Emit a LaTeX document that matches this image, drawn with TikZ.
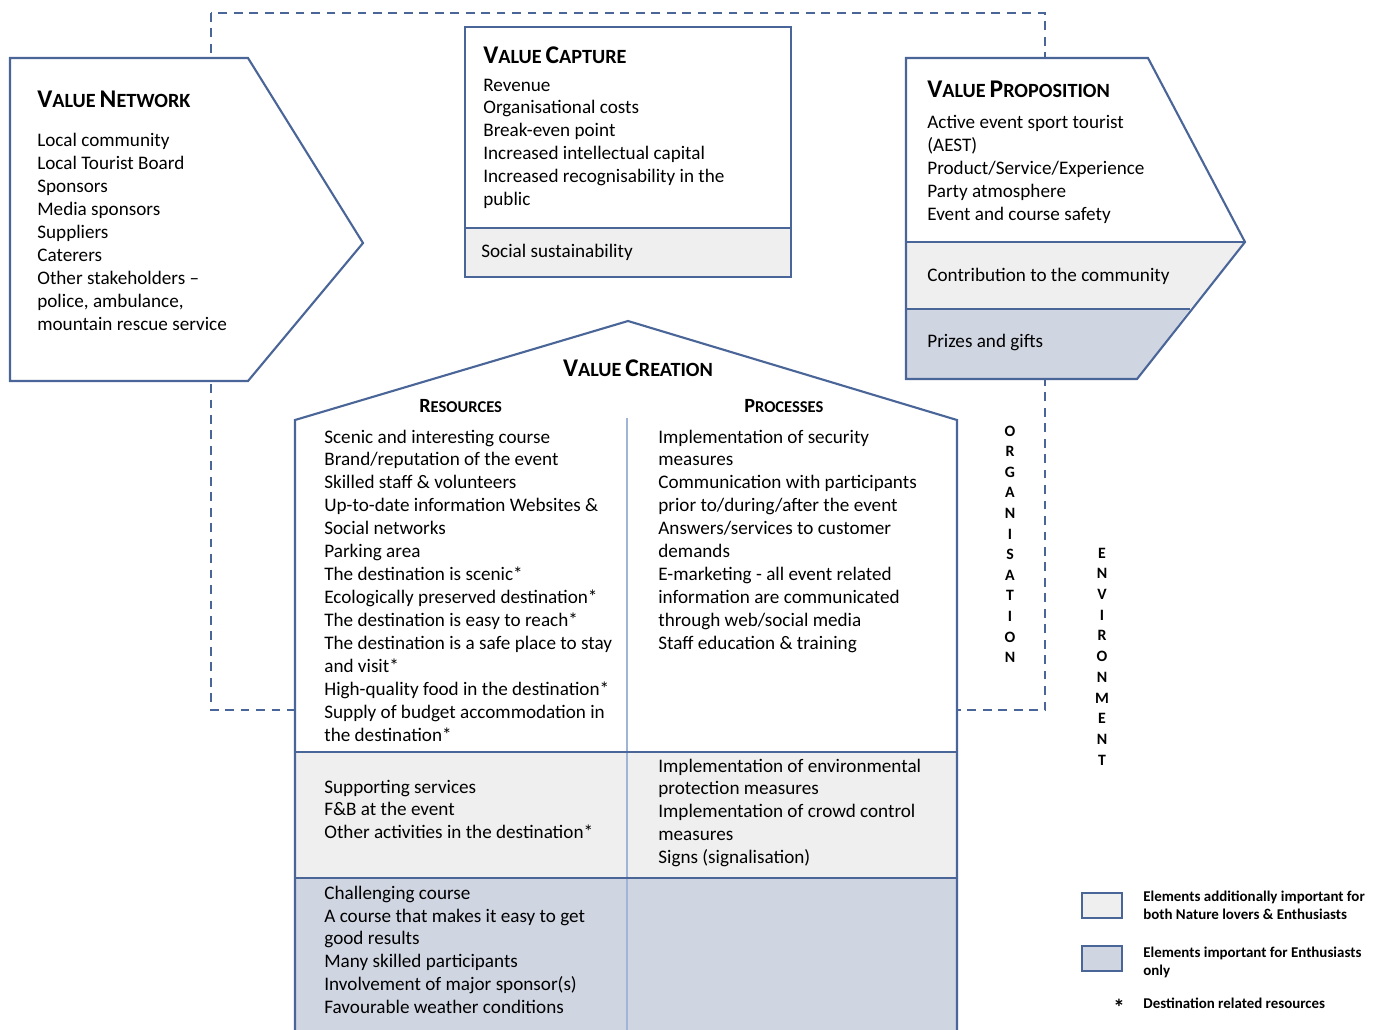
\documentclass[tikz,border=0pt]{standalone}
\usepackage{fontspec}
\setmainfont{Carlito}
\usepackage{xcolor}
\usepackage{tikz}

\definecolor{bordo}{RGB}{74,101,151}
\definecolor{divisore}{RGB}{160,180,214}
\definecolor{grigiochiaro}{RGB}{239,239,239}
\definecolor{grigioblu}{RGB}{208,213,226}

\newcommand{\scgrande}[2]{{\fontsize{14.5}{16}\selectfont #1}{\fontsize{11.5}{13}\selectfont #2}}
\newcommand{\scpiccolo}[2]{{\fontsize{11.5}{13}\selectfont #1}{\fontsize{9.4}{11}\selectfont #2}}

% i nodi su piu righe sono posti sulla linea di base dell'ultima riga
\tikzset{
  testo/.style={anchor=base west, align=left, inner sep=0pt, font=\fontsize{10.9}{13.05}\selectfont},
  titolo/.style={anchor=base west, inner sep=0pt, font=\bfseries},
  lettera/.style={inner sep=0pt, font=\fontsize{9}{9}\selectfont\bfseries},
  legenda/.style={anchor=base west, align=left, inner sep=0pt, font=\fontsize{8.5}{10.2}\selectfont\bfseries},
  contorno/.style={draw=bordo, line width=1.2pt}
}

\begin{document}
\begin{tikzpicture}[x=0.02cm, y=-0.02cm]
\useasboundingbox (0,0) rectangle (1386,1029);

% organizzazione - riquadro tratteggiato
\draw[bordo, line width=1.2pt, dash pattern=on 5pt off 3.8pt] (211,13) rectangle (1045,710);

% value network
\draw[contorno, fill=white] (10,58) -- (248,58) -- (363,243) -- (248,381) -- (10,381) -- cycle;
\node (vnTitolo) at (37,107) [titolo] {\scgrande{V}{ALUE} \scgrande{N}{ETWORK}};
\node (vnLista) at (37,330.4) [testo] {Local community\\Local Tourist Board\\Sponsors\\Media sponsors\\Suppliers\\Caterers\\Other stakeholders –\\police, ambulance,\\mountain rescue service};

% value capture
\draw[contorno, fill=grigiochiaro] (465,228) rectangle (791,277);
\draw[contorno, fill=white] (465,27) rectangle (791,228);
\node (vcTitolo) at (483,63) [titolo] {\scgrande{V}{ALUE} \scgrande{C}{APTURE}};
\node (vcLista) at (483,205.7) [testo] {Revenue\\Organisational costs\\Break-even point\\Increased intellectual capital\\Increased recognisability in the\\public};
\node (vcSociale) at (481,257) [testo] {Social sustainability};

% value proposition
\fill[white] (906,58) -- (1148,58) -- (1245,242) -- (906,242) -- cycle;
\fill[grigiochiaro] (906,242) -- (1245,242) -- (1190,309) -- (906,309) -- cycle;
\fill[grigioblu] (906,309) -- (1190,309) -- (1137,379) -- (906,379) -- cycle;
\draw[contorno] (906,58) -- (1148,58) -- (1245,242) -- (1137,379) -- (906,379) -- cycle;
\draw[contorno] (906,242) -- (1245,242);
\draw[contorno] (906,309) -- (1190,309);
\node (vpTitolo) at (927,97) [titolo] {\scgrande{V}{ALUE} \scgrande{P}{ROPOSITION}};
\node (vpLista) at (927,220.7) [testo] {Active event sport tourist\\(AEST)\\Product/Service/Experience\\Party atmosphere\\Event and course safety};
\node (vpComunita) at (927,281) [testo] {Contribution to the community};
\node (vpPremi) at (927,347) [testo] {Prizes and gifts};

% value creation - casa
\fill[white] (295,420) -- (628,321) -- (957,420) -- (957,752) -- (295,752) -- cycle;
\fill[grigiochiaro] (295,752) rectangle (957,878);
\fill[grigioblu] (295,878) rectangle (957,1035);
\draw[divisore, line width=0.8pt] (627,418) -- (627,1035);
\draw[contorno] (295,1035) -- (295,420) -- (628,321) -- (957,420) -- (957,1035);
\draw[contorno] (295,752) -- (957,752);
\draw[contorno] (295,878) -- (957,878);
\node (crTitolo) at (638,376) [titolo, anchor=base] {\scgrande{V}{ALUE} \scgrande{C}{REATION}};
\node (crRisorse) at (419,412) [titolo] {\scpiccolo{R}{ESOURCES}};
\node (crProcessi) at (744,412) [titolo] {\scpiccolo{P}{ROCESSES}};
\node (risorseA) at (324,741.1) [testo] {Scenic and interesting course\\Brand/reputation of the event\\Skilled staff \& volunteers\\Up-to-date information Websites \&\\Social networks\\Parking area\\The destination is scenic*\\Ecologically preserved destination*\\The destination is easy to reach*\\The destination is a safe place to stay\\and visit*\\High-quality food in the destination*\\Supply of budget accommodation in\\the destination*};
\node (processiA) at (658,649.4) [testo] {Implementation of security\\measures\\Communication with participants\\prior to/during/after the event\\Answers/services to customer\\demands\\E-marketing - all event related\\information are communicated\\through web/social media\\Staff education \& training};
\node (risorseB) at (324,838.9) [testo] {Supporting services\\F\&B at the event\\Other activities in the destination*};
\node (processiB) at (658,863.7) [testo] {Implementation of environmental\\protection measures\\Implementation of crowd control\\measures\\Signs (signalisation)};
\node (risorseC) at (324,1013.7) [testo] {Challenging course\\A course that makes it easy to get\\good results\\Many skilled participants\\Involvement of major sponsor(s)\\Favourable weather conditions};

% scritte verticali
\foreach \l [count=\i] in {O,R,G,A,N,I,S,A,T,I,O,N}
  \node (org\i) at (1010,{431+20.6*(\i-1)}) [lettera] {\l};
\foreach \l [count=\i] in {E,N,V,I,R,O,N,M,E,N,T}
  \node (env\i) at (1102,{553+20.7*(\i-1)}) [lettera] {\l};

% legenda
\draw[contorno, fill=grigiochiaro] (1082,893) rectangle (1122,918);
\draw[contorno, fill=grigioblu] (1082,946) rectangle (1122,971);
\node (legA) at (1143,919) [legenda] {Elements additionally important for\\both Nature lovers \& Enthusiasts};
\node (legB) at (1143,975) [legenda] {Elements important for Enthusiasts\\only};
\node (legStella) at (1119,1015) [legenda, anchor=base, font=\fontsize{13}{13}\selectfont\bfseries] {*};
\node (legC) at (1143,1008) [legenda] {Destination related resources};
\end{tikzpicture}
\end{document}
